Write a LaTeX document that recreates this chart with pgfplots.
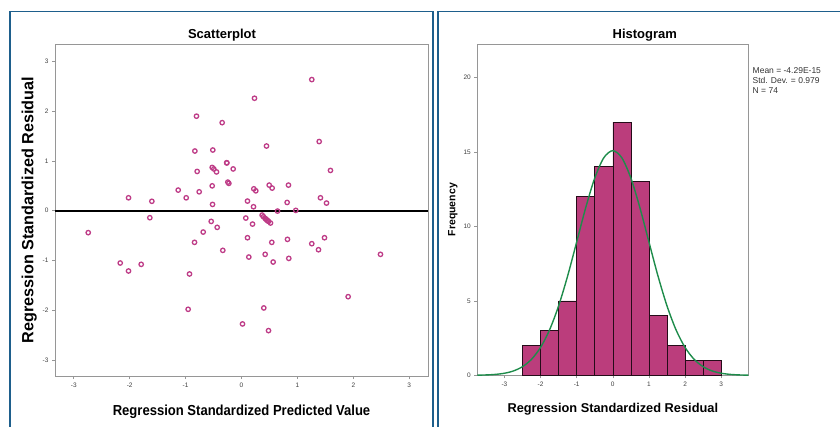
\documentclass[border=0pt]{standalone}
\usepackage{pgfplots}
\pgfplotsset{compat=1.18}
\usepackage{fontspec}
\setmainfont{Liberation Sans}
\definecolor{panel}{RGB}{30,95,140}
\definecolor{pt}{RGB}{190,60,135}
\definecolor{bar}{RGB}{187,61,124}
\definecolor{curve}{RGB}{30,140,75}
\definecolor{frame}{RGB}{150,150,150}
\pgfplotsset{
  spss/.style={
    scale only axis,
    axis line style={frame, line width=0.9pt},
    tick style={frame, line width=0.6pt},
    tick align=outside,
    xtick pos=left, ytick pos=left,
    major tick length=3pt,
    tick label style={font=\fontsize{6.5}{7}\selectfont, text=black!75},
    /pgf/number format/assume math mode=true,
    title style={font=\fontsize{13}{14}\bfseries\selectfont},
  }
}
\begin{document}
\begin{tikzpicture}
\useasboundingbox (0pt,0pt) rectangle (840pt,426pt);
\clip (0pt,0pt) rectangle (840pt,426pt);
\draw[panel, line width=1.8pt] (10pt,-10pt) -- (10pt,414.5pt) -- (433pt,414.5pt) -- (433pt,-10pt);
\draw[panel, line width=1.8pt] (438pt,-10pt) -- (438pt,414.5pt) -- (850pt,414.5pt);
\begin{axis}[spss,
  at={(55pt,50pt)}, anchor=south west,
  width=373pt, height=332pt,
  xmin=-3.335, xmax=3.335, ymin=-3.32, ymax=3.35,
  xtick={-3,-2,-1,0,1,2,3}, ytick={-3,-2,-1,0,1,2,3},
  title={Scatterplot},
  title style={at={(0.5,1)}, xshift=-19.5pt, yshift=-7pt},
  xlabel={\fontsize{14.5}{15}\bfseries\selectfont\scalebox{0.9}[1]{Regression Standardized Predicted Value}},
  ylabel={\fontsize{16.2}{17}\bfseries\selectfont Regression Standardized Residual},
  xlabel style={yshift=-11pt},
  ylabel style={yshift=-1pt},
]
\addplot[only marks, mark=o, mark size=2.2pt, mark options={pt, line width=1.3pt}] coordinates {
(1.257,2.635) (0.232,2.26) (-0.805,1.90) (-0.346,1.77) (1.389,1.39) (0.447,1.30)
(-0.834,1.20) (-0.513,1.22) (-0.262,0.96) (-0.524,0.87) (-0.495,0.84) (-0.447,0.78)
(-0.793,0.79) (-0.149,0.84) (1.591,0.81) (-0.244,0.575) (-0.226,0.55) (-1.132,0.415)
(-0.757,0.38) (-0.524,0.50) (0.220,0.44) (0.256,0.40) (0.495,0.515) (0.548,0.455)
(0.840,0.515) (-2.020,0.26) (-0.989,0.26) (-1.603,0.19) (-0.518,0.127) (0.107,0.194)
(0.215,0.08) (0.816,0.167) (1.412,0.26) (1.520,0.154) (0.644,-0.007) (0.971,0.007)
(-1.639,-0.14) (0.077,-0.147) (0.369,-0.087) (0.393,-0.12) (0.423,-0.154) (0.453,-0.187)
(0.483,-0.214) (0.518,-0.247) (0.438,-0.170) (0.468,-0.200) (0.197,-0.268) (-0.542,-0.214)
(-0.435,-0.334) (-2.741,-0.44) (-0.685,-0.428) (0.107,-0.542) (-0.840,-0.635) (0.542,-0.635)
(0.822,-0.575) (1.484,-0.542) (1.257,-0.662) (1.377,-0.783) (-0.334,-0.796) (0.131,-0.93)
(0.423,-0.876) (0.846,-0.957) (0.566,-1.03) (2.485,-0.876) (-2.169,-1.05) (-1.794,-1.077)
(-2.020,-1.21) (-0.930,-1.27) (1.907,-1.726) (-0.954,-1.98) (0.399,-1.953) (0.018,-2.274)
(0.483,-2.408) (-0.265,0.965)
};
\addplot[black, line width=1.8pt] coordinates {(-3.335,0) (3.335,0)};
\end{axis}
\begin{axis}[spss,
  at={(477.3pt,50.7pt)}, anchor=south west,
  width=271pt, height=331.3pt,
  xmin=-3.75, xmax=3.75, ymin=0, ymax=22.24,
  xtick={-3,-2,-1,0,1,2,3}, ytick={0,5,10,15,20},
  title={Histogram},
  title style={at={(0.5,1)}, xshift=32pt, yshift=-7pt},
  xlabel={\fontsize{12.8}{13}\bfseries\selectfont Regression Standardized Residual},
  ylabel={\fontsize{10.5}{11}\bfseries\selectfont Frequency},
  xlabel style={yshift=-10pt},
  ylabel style={yshift=-1pt},
]
\addplot[ybar interval, fill=bar, draw=black!80!bar, line width=0.6pt] coordinates {
(-2.5,2) (-2,3) (-1.5,5) (-1,12) (-0.5,14) (0,17) (0.5,13) (1,4) (1.5,2) (2,1) (2.5,1) (3,1)
};
\addplot[curve, line width=1.4pt, smooth] coordinates {
(-3.75,0.010) (-3.5,0.025) (-3.25,0.061) (-3,0.138) (-2.75,0.292) (-2.5,0.578) (-2.25,1.075)
(-2,1.87) (-1.75,3.05) (-1.5,4.66) (-1.25,6.67) (-1,8.95) (-0.75,11.25) (-0.5,13.24)
(-0.25,14.60) (0,15.08) (0.25,14.60) (0.5,13.24) (0.75,11.25) (1,8.95) (1.25,6.67)
(1.5,4.66) (1.75,3.05) (2,1.87) (2.25,1.075) (2.5,0.578) (2.75,0.292) (3,0.138)
(3.25,0.061) (3.5,0.025) (3.75,0.010)
};
\end{axis}
\node[anchor=north west, align=left, inner sep=0pt, font=\fontsize{8.5}{10.3}\selectfont, text=black!80]
  at (752.5pt,359pt) {Mean = -4.29E-15\\Std. Dev. = 0.979\\N = 74};
\end{tikzpicture}
\end{document}
